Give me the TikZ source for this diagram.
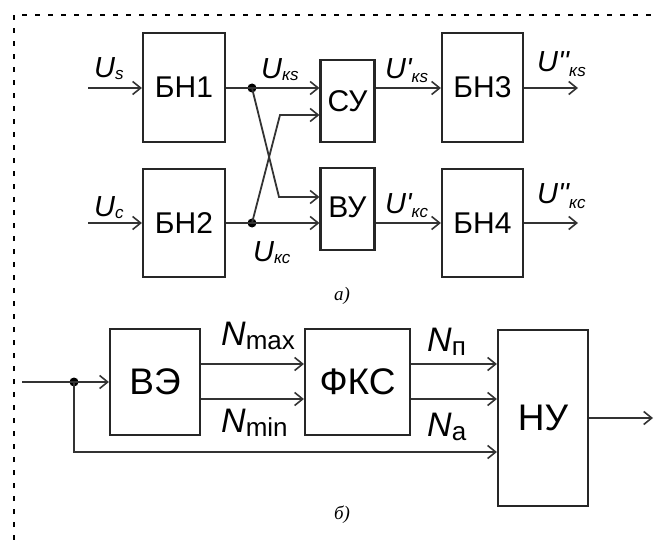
\documentclass[tikz,border=0pt]{standalone}
\usepackage{fontspec}
\setmainfont{Liberation Sans}
\newfontfamily\labfont{Liberation Sans}[Ligatures=ResetAll]
\newfontfamily\serifit{Liberation Serif}
\usetikzlibrary{arrows.meta}
\newcommand{\Usb}[2][-2pt]{\raisebox{#1}{\fontsize{17}{17}\selectfont\itshape #2}}
\newcommand{\Nsb}[2][-4pt]{\raisebox{#1}{\fontsize{26}{26}\selectfont\upshape #2}}
\begin{document}
\begin{tikzpicture}[x=1pt,y=-1pt,
  blk/.style={draw=black!85, line width=2.2pt, inner sep=0pt, font=\fontsize{30}{30}\selectfont},
  blkB/.style={blk, font=\fontsize{37}{37}\selectfont},
  wire/.style={draw=black!80, line width=1.8pt},
  arr/.style={wire, -{Straight Barb[length=8pt,width=13pt,line width=1.6pt]}},
  jdot/.style={circle, fill=black, inner sep=0pt, minimum size=9pt},
  ulab/.style={anchor=base west, inner sep=0pt, font=\fontsize{29}{29}\selectfont\labfont\itshape},
  nlab/.style={anchor=base west, inner sep=0pt, font=\fontsize{34}{34}\selectfont\itshape},
  capt/.style={inner sep=0pt, font=\fontsize{19}{19}\selectfont\serifit\itshape}
]
\useasboundingbox (0,0) rectangle (655,540);
% frame
\draw[black, line width=2pt, dash pattern=on 5pt off 8pt] (14,540) -- (14,15) -- (655,15);

% ---- diagram a
\node[blk, minimum width=82pt, minimum height=109pt] (bn1) at (184,87.5) {БН1};
\node[blk, minimum width=82pt, minimum height=108pt] (bn2) at (184,223) {БН2};
\node[blk, minimum width=54pt, minimum height=82pt] (su) at (347.5,101) {СУ};
\node[blk, minimum width=54pt, minimum height=82pt] (vu) at (347.5,209) {\raisebox{4pt}{ВУ}};
\node[blk, minimum width=81pt, minimum height=109pt] (bn3) at (482.5,87.5) {БН3};
\node[blk, minimum width=81pt, minimum height=108pt] (bn4) at (482.5,223) {БН4};

\coordinate (us) at (88,88);
\coordinate (uc) at (88,223);
\node[jdot] (d1) at (252,88) {};
\node[jdot] (d2) at (252,223) {};
\coordinate (k1) at (279,197);
\coordinate (k2) at (280,115);
\coordinate (o3) at (578,88);
\coordinate (o4) at (578,223);

\draw[arr] (us) -- (us -| bn1.west);
\draw[arr] (uc) -- (uc -| bn2.west);
\draw[wire] (d1 -| bn1.east) -- (d1.center);
\draw[arr] (d1.center) -- (d1 -| su.west);
\draw[wire] (d2 -| bn2.east) -- (d2.center);
\draw[arr] (d2.center) -- (d2 -| vu.west);
\draw[arr] (d1.center) -- (k1) -- (k1 -| vu.west);
\draw[arr] (d2.center) -- (k2) -- (k2 -| su.west);
\draw[arr] (d1 -| su.east) -- (d1 -| bn3.west);
\draw[arr] (d2 -| vu.east) -- (d2 -| bn4.west);
\draw[arr] (o3 -| bn3.east) -- (o3);
\draw[arr] (o4 -| bn4.east) -- (o4);

\node[ulab] (lus) at (94,78) {U\Usb{s}};
\node[ulab] (luc) at (94,216) {U\Usb{c}};
\node[ulab] (luks) at (261,79) {U\Usb{кs}};
\node[ulab] (lukc) at (253,261) {U\Usb{кс}};
\node[ulab] (lu1ks) at (385,79) {U'\Usb[-4pt]{кs}};
\node[ulab] (lu1kc) at (385,213) {U'\Usb[-4pt]{кс}};
\node[ulab] (lu2ks) at (537,72) {U''\Usb[-5pt]{кs}};
\node[ulab] (lu2kc) at (537,203) {U''\Usb[-5pt]{кс}};

\node[capt] (ca) at (342,296) {а)};

% ---- diagram b
\node[blkB, minimum width=90pt, minimum height=106pt] (ve) at (155,382) {ВЭ};
\node[blkB, minimum width=105pt, minimum height=106pt] (fks) at (357.5,382) {ФКС};
\node[blkB, minimum width=90pt, minimum height=176pt] (nu) at (543,418) {НУ};

\coordinate (in) at (22,382);
\node[jdot] (d3) at (74,382) {};
\coordinate (fb) at (74,452);
\coordinate (ya) at (0,364);
\coordinate (yb) at (0,399);
\coordinate (out) at (653,418);

\draw[wire] (in) -- (d3.center);
\draw[arr] (d3.center) -- (d3 -| ve.west);
\draw[arr] (d3.center) -- (fb) -- (fb -| nu.west);
\draw[arr] (ya -| ve.east) -- (ya -| fks.west);
\draw[arr] (yb -| ve.east) -- (yb -| fks.west);
\draw[arr] (ya -| fks.east) -- (ya -| nu.west);
\draw[arr] (yb -| fks.east) -- (yb -| nu.west);
\draw[arr] (out -| nu.east) -- (out);

\node[nlab] (lnmax) at (221,345) {N\Nsb{max}};
\node[nlab] (lnmin) at (221,432) {N\Nsb{min}};
\node[nlab] (lnp) at (427,351) {N\Nsb{п}};
\node[nlab] (lna) at (427,436) {N\Nsb{а}};

\node[capt] (cb) at (342,515) {б)};
\end{tikzpicture}
\end{document}
